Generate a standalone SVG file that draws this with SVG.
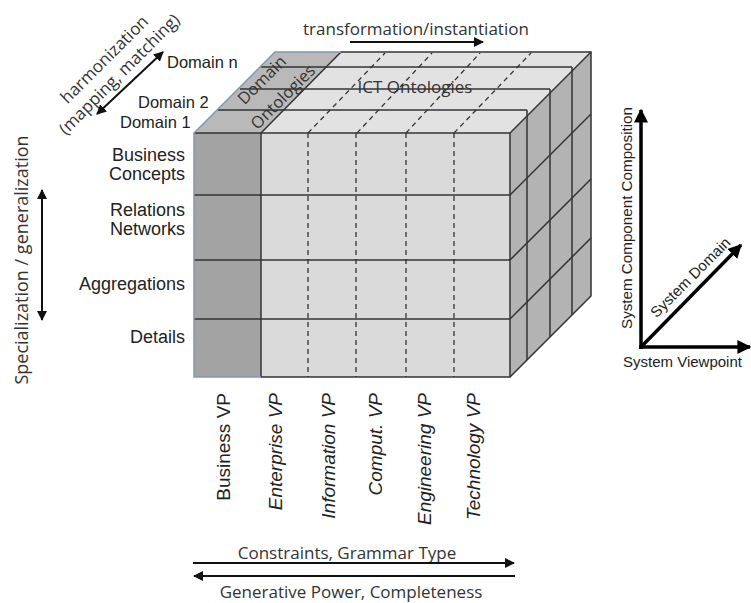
<svg xmlns="http://www.w3.org/2000/svg" width="751" height="603" viewBox="0 0 751 603">
<defs>
<style>
.sans{font-family:"Liberation Sans",Arial,sans-serif;fill:#222}
.ui{font-family:"Open Sans","Noto Sans",sans-serif;fill:#333}
.edge{stroke:#333;stroke-width:1.5;fill:none}
.dash{stroke:#333;stroke-width:1.3;stroke-dasharray:5,4;fill:none}
.arr{stroke:#111;stroke-width:2;fill:none}
.axis{stroke:#000;stroke-width:3.5;fill:none}
</style>
<marker id="ah" viewBox="0 0 10 10" refX="9" refY="5" markerWidth="5" markerHeight="5" orient="auto-start-reverse" markerUnits="strokeWidth"><path d="M0,0L10,5L0,10z" fill="#111"/></marker>
<marker id="ahb" viewBox="0 0 10 10" refX="9" refY="5" markerWidth="4" markerHeight="4" orient="auto-start-reverse" markerUnits="strokeWidth"><path d="M0,0L10,5L0,10z" fill="#000"/></marker>
</defs>
<rect width="751" height="603" fill="#fff"/>

<g id="cube">
<polygon points="194,133 275,52 591,52 510,133" fill="#e2e2e2"/>
<polygon points="194,133 275,52 341,52 261,133" fill="#b9b9b9"/>
<polygon points="510,133 591,52 591,296 510,377" fill="#b3b3b3"/>
<rect x="194" y="133" width="316" height="244" fill="#dadada"/>
<rect x="194" y="133" width="67" height="244" fill="#a3a3a3"/>
<g class="edge">
<line x1="261" y1="67" x2="572" y2="67"/>
<line x1="240" y1="89" x2="550" y2="89"/>
<line x1="218" y1="110" x2="527" y2="110"/>
<line x1="572" y1="67" x2="572" y2="315"/>
<line x1="550" y1="89" x2="550" y2="337"/>
<line x1="527" y1="110" x2="527" y2="360"/>
<line x1="510" y1="195" x2="591" y2="114"/>
<line x1="510" y1="260" x2="591" y2="179"/>
<line x1="510" y1="319" x2="591" y2="238"/>
<line x1="194" y1="195" x2="510" y2="195"/>
<line x1="194" y1="260" x2="510" y2="260"/>
<line x1="194" y1="319" x2="510" y2="319"/>
<line x1="261" y1="133" x2="261" y2="377"/>
<line x1="261" y1="133" x2="341" y2="52"/>
<polyline points="261,377 510,377 510,133 194,133"/>
<polyline points="341,52 591,52 591,296 510,377"/>
<line x1="510" y1="133" x2="591" y2="52"/>
</g>
<g class="dash">
<line x1="308" y1="133" x2="308" y2="377"/>
<line x1="356" y1="133" x2="356" y2="377"/>
<line x1="406" y1="133" x2="406" y2="377"/>
<line x1="454" y1="133" x2="454" y2="377"/>
<line x1="308" y1="133" x2="385" y2="53"/>
<line x1="357" y1="133" x2="432" y2="53"/>
<line x1="406" y1="133" x2="480" y2="53"/>
<line x1="454" y1="133" x2="531" y2="53"/>
</g>
<g stroke="#8497b0" stroke-width="1.5" fill="none">
<polyline points="261,377 194,377 194,133 275,52 341,52"/>
</g>
<text class="ui" font-size="16.5" text-anchor="middle" transform="translate(266,84) rotate(-45)">Domain</text>
<text class="ui" font-size="16.5" text-anchor="middle" transform="translate(287,101) rotate(-45)">Ontologies</text>
<text class="ui" font-size="17" text-anchor="middle" x="415" y="93" fill="#404040">ICT Ontologies</text>
</g>

<g id="row-labels" class="sans" font-size="18" text-anchor="end">
<text x="185" y="161">Business</text>
<text x="185" y="180">Concepts</text>
<text x="185" y="216">Relations</text>
<text x="185" y="235">Networks</text>
<text x="185" y="290">Aggregations</text>
<text x="185" y="343">Details</text>
</g>

<g id="domain-labels" class="sans" font-size="16.5">
<text x="167" y="68">Domain n</text>
<text x="138" y="108">Domain 2</text>
<text x="120" y="128">Domain 1</text>
</g>

<g id="viewpoint-labels" class="sans" font-size="19" text-anchor="end">
<text transform="translate(230,393) rotate(-90)">Business VP</text>
<text font-style="italic" transform="translate(282,393) rotate(-90)">Enterprise VP</text>
<text font-style="italic" transform="translate(335,393) rotate(-90)">Information VP</text>
<text font-style="italic" transform="translate(382,393) rotate(-90)">Comput. VP</text>
<text font-style="italic" transform="translate(431,393) rotate(-90)">Engineering VP</text>
<text font-style="italic" transform="translate(480,393) rotate(-90)">Technology VP</text>
</g>

<g id="harmonization">
<text class="ui" font-size="17" text-anchor="middle" transform="translate(129,84) rotate(-45)"><tspan x="0" y="-29">harmonization</tspan><tspan x="0" y="-8">(mapping, matching)</tspan></text>
</g>

<g id="specialization">
<text class="ui" font-size="18" text-anchor="middle" transform="translate(28,260) rotate(-90)">Specialization  / generalization</text>
</g>

<g id="transformation">
<text class="ui" font-size="17" x="303" y="35">transformation/instantiation</text>
</g>

<g id="bottom-texts" class="ui" font-size="17" text-anchor="middle">
<text x="347" y="559">Constraints, Grammar Type</text>
<text x="351" y="598">Generative Power, Completeness</text>
</g>

<g id="axes">
<line class="axis" x1="641" y1="349" x2="641" y2="110" marker-end="url(#ahb)"/>
<line class="axis" x1="639" y1="347" x2="750" y2="347" marker-end="url(#ahb)"/>
<line class="axis" x1="641" y1="347" x2="741" y2="245" marker-end="url(#ahb)"/>
<text class="sans" font-size="15.2" text-anchor="middle" transform="translate(632,218) rotate(-90)">System Component Composition</text>
<text class="sans" font-size="15" text-anchor="middle" transform="translate(694,281) rotate(-45)">System Domain</text>
<text class="sans" font-size="15" x="623" y="367">System Viewpoint</text>
</g>

<g id="connectors">
<line class="arr" x1="97" y1="114" x2="163" y2="52" marker-start="url(#ah)" marker-end="url(#ah)"/>
<line class="arr" x1="42" y1="190" x2="42" y2="320" marker-start="url(#ah)" marker-end="url(#ah)"/>
<line class="arr" x1="350" y1="42" x2="483" y2="42" marker-end="url(#ah)"/>
<line class="arr" x1="193" y1="563" x2="514" y2="563" marker-end="url(#ah)"/>
<line class="arr" x1="194" y1="576" x2="515" y2="576" marker-start="url(#ah)"/>
</g>
</svg>
